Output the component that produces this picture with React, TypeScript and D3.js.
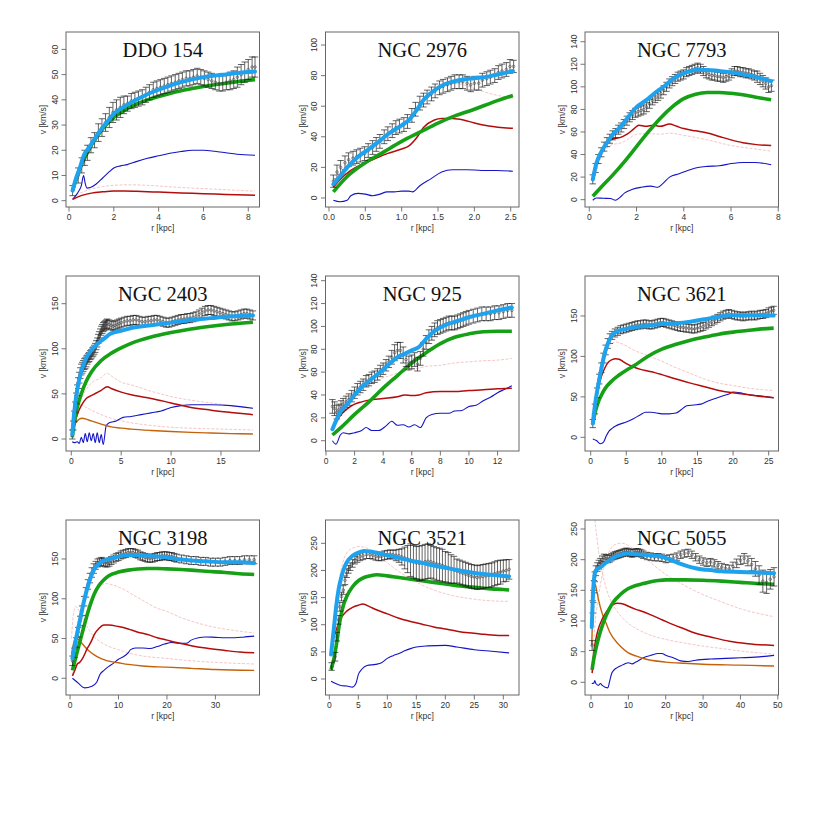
import React from 'react';
import * as d3 from 'd3';

type P = [number, number];
type O = [number, number, number];

// ---------------- DDO 154 ----------------
const ddoObs: O[] = [[0.16,4,2],[0.41,10,3],[0.57,14,3],[0.7,17,3],[0.82,19,3],[0.98,22,3],[1.14,24,3],[1.31,27,3.5],[1.47,29,3.5],[1.63,31,3.5],[1.8,33,4],[1.96,35,4],[2.12,36,4],[2.29,37,4],[2.45,38,3.5],[2.61,38.5,3],[2.78,39.5,3],[2.94,40,3],[3.1,40.5,3],[3.27,41,3],[3.43,42,3],[3.59,43,3],[3.76,44,3],[3.92,44.5,3],[4.08,45,3],[4.25,45.5,3],[4.41,46,3],[4.57,46.5,3],[4.74,47,3],[4.9,47.5,3],[5.06,48,3],[5.23,48.5,3],[5.39,48.5,3],[5.55,49,3],[5.72,49.5,3],[5.88,49,3],[6.04,48.5,3],[6.21,48,3],[6.37,47.5,3],[6.53,47,3],[6.7,46.5,3],[6.86,46.5,3],[7.02,47,3],[7.19,47.5,3.5],[7.35,48,3.5],[7.51,49,4],[7.68,50,4],[7.84,51,4],[8.0,52,4],[8.17,53,4],[8.3,53,4]];
const ddoTotal: P[] = [[0.16,4],[0.3,8.5],[0.5,13.5],[0.62,17],[0.72,19],[0.85,20.5],[1.0,22.5],[1.25,26],[1.5,29],[1.75,31.8],[2.0,34.5],[2.5,37.5],[3.0,40],[3.5,42.2],[4.0,44],[4.5,45.6],[5.0,47],[5.5,48.1],[6.0,49],[6.5,49.6],[7.0,50.1],[7.5,50.6],[8.3,51.2]];
const ddoHalo: P[] = [[0.16,4],[0.5,13],[1.0,22],[1.5,28.5],[2.0,33],[2.5,36],[3.0,38.3],[3.5,40],[4.0,41.3],[4.5,42.5],[5.0,43.6],[5.5,44.5],[6.0,45.3],[6.5,46],[7.0,46.6],[7.5,47.2],[8.3,48]];
const ddoDisk: P[] = [[0.16,0.5],[0.4,1.5],[0.7,2.4],[1.0,3],[1.5,3.5],[2.0,3.8],[2.5,3.8],[3.0,3.7],[4.0,3.4],[5.0,3.1],[6.0,2.8],[7.0,2.5],[8.3,2.2]];
const ddoGas: P[] = [[0.16,0.5],[0.3,2],[0.45,4],[0.55,6],[0.65,10],[0.72,7],[0.8,5],[0.95,5.2],[1.2,6.5],[1.5,9],[1.8,11.5],[2.0,13],[2.3,13.8],[2.6,14.3],[3.0,15.5],[3.5,16.8],[4.0,17.8],[4.5,18.8],[5.0,19.5],[5.5,20],[6.0,20],[6.5,19.6],[7.0,19],[7.5,18.4],[8.3,18]];
const ddoDiskAlt: P[] = [[0.16,1],[0.5,3],[1.0,4.6],[1.5,5.6],[2.0,6.1],[2.7,6.3],[3.5,6.1],[4.5,5.5],[5.5,5],[6.5,4.6],[7.5,4.1],[8.3,3.8]];

// ---------------- NGC 2976 ----------------
const n2976Obs: O[] = [[0.06,11,4],[0.11,17,4.5],[0.16,20,4.5],[0.22,23,4.5],[0.27,25,4.5],[0.33,26,4.5],[0.38,27,4.5],[0.43,28,4.5],[0.49,29,4.5],[0.54,31,4.5],[0.6,33,4.5],[0.65,35,4.5],[0.7,37,4.5],[0.76,40,4.5],[0.81,42,4.5],[0.87,44,4.5],[0.92,46,4.5],[0.97,47,4.5],[1.03,48,4.5],[1.08,50,4.5],[1.14,54,4.5],[1.19,58,4.5],[1.25,62,4.5],[1.3,64,4.5],[1.35,66,4.5],[1.41,68,4.5],[1.46,70,4.5],[1.52,72,4.5],[1.57,73,4.5],[1.63,74,4.5],[1.68,75,4.5],[1.73,76,4.5],[1.79,76,4.5],[1.84,76,4.5],[1.9,75,4.5],[1.95,74,4.5],[2.0,75,4.5],[2.06,75,4.5],[2.11,77,4.5],[2.17,78,4.5],[2.22,79,4.5],[2.28,80,4.5],[2.33,82,4.5],[2.38,83,4.5],[2.44,84,4.5],[2.49,86,4.5],[2.54,86,4]];
const n2976Total: P[] = [[0.06,9],[0.15,14],[0.25,20],[0.4,27],[0.55,32],[0.7,37.5],[0.85,43],[1.0,47.5],[1.1,51],[1.2,57],[1.3,64],[1.4,68.5],[1.5,72],[1.6,74.5],[1.7,76],[1.85,77.5],[2.0,78.3],[2.2,79.5],[2.35,81],[2.53,83]];
const n2976Halo: P[] = [[0.06,4],[0.25,14],[0.5,23],[0.75,30],[1.0,37],[1.25,43],[1.5,49],[1.75,54],[2.0,58],[2.25,62.5],[2.53,67]];
const n2976Disk: P[] = [[0.06,7],[0.15,12],[0.3,18],[0.45,22],[0.6,25],[0.8,29],[1.0,32],[1.1,34],[1.2,39],[1.3,46],[1.45,51],[1.55,52],[1.7,52],[1.85,51],[2.0,49],[2.2,47],[2.53,45.5]];
const n2976Gas: P[] = [[0.06,-1.5],[0.15,-2.5],[0.25,-1.5],[0.3,1.5],[0.4,3],[0.5,2.5],[0.6,1.5],[0.7,2.5],[0.8,4],[0.9,4],[1.0,4.5],[1.1,4.5],[1.15,4],[1.25,8],[1.4,12.5],[1.55,17],[1.7,18.5],[1.9,18.5],[2.1,18],[2.3,18],[2.53,17.5]];
const n2976DiskAlt: P[] = [[0.06,10],[0.3,24],[0.6,33],[0.9,42],[1.1,50],[1.3,65],[1.5,73],[1.7,75],[1.85,74],[2.0,71.5],[2.2,68.5],[2.53,65]];

// ---------------- NGC 7793 ----------------
const n7793Obs: O[] = [[0.15,18,4],[0.27,28,4],[0.39,36,4],[0.51,42,4],[0.63,47,4],[0.75,51,4],[0.87,54,4],[0.99,57,4],[1.11,59,4],[1.23,62,4],[1.35,64,4],[1.47,67,4],[1.59,70,4],[1.71,73,4],[1.83,75,4],[1.95,77,4],[2.07,78,4],[2.19,79,4],[2.31,80,4],[2.43,82,4],[2.55,85,4],[2.67,88,4],[2.79,90,4],[2.91,92,4],[3.03,94,4],[3.15,97,4],[3.27,100,4],[3.39,103,4],[3.51,105,4],[3.63,107,4],[3.75,109,4],[3.87,110,4],[3.99,111,4],[4.11,113,4],[4.23,114,4],[4.35,115,4],[4.47,116,4],[4.59,117,4],[4.71,116,4],[4.83,114,4],[4.95,112,4],[5.07,111,4],[5.19,110,4],[5.31,110,4],[5.43,109,4],[5.55,109,4],[5.67,108,4],[5.79,109,4],[5.91,110,4],[6.03,112,4],[6.15,114,4],[6.27,114,4],[6.39,113,4],[6.51,113,4],[6.63,112,4],[6.75,112,4],[6.87,111,4],[6.99,110,4],[7.11,109,5],[7.23,107,5],[7.35,105,5],[7.47,103,5],[7.59,100,5],[7.71,101,5]];
const n7793Total: P[] = [[0.15,18],[0.3,32],[0.5,42],[0.8,52],[1.0,58],[1.3,64],[1.6,72],[2.0,82],[2.4,88],[2.8,95],[3.2,101],[3.6,108],[4.0,112],[4.5,115],[5.0,115],[5.5,114],[6.0,113],[6.5,111],[7.0,109],[7.7,105]];
const n7793Halo: P[] = [[0.15,3],[0.5,11],[1.0,22],[1.5,34],[2.0,47],[2.5,60],[3.0,72],[3.5,82],[4.0,89.5],[4.5,93.5],[5.0,95],[5.5,95],[6.0,94.3],[6.5,93],[7.0,91],[7.7,88.5]];
const n7793Disk: P[] = [[0.15,18],[0.3,32],[0.5,42],[0.8,51],[1.0,54],[1.3,55],[1.6,58],[1.9,63],[2.1,66],[2.4,65],[2.7,66],[3.0,65],[3.4,67],[3.7,65],[4.0,63],[4.5,61],[5.0,59],[5.5,56],[6.0,53],[6.5,50.5],[7.0,49],[7.7,48]];
const n7793Gas: P[] = [[0.15,-0.5],[0.3,1.5],[0.6,1.2],[0.9,1],[1.1,-0.5],[1.3,2],[1.5,6],[1.8,9],[2.2,11],[2.6,12],[2.9,11],[3.1,14],[3.4,20],[3.8,23],[4.2,26],[4.6,28.5],[5.0,29.5],[5.5,30],[6.0,32],[6.5,33],[7.0,33],[7.7,31]];
const n7793DiskAlt: P[] = [[0.15,16],[0.5,38],[1.0,49],[1.3,50],[1.6,53],[2.0,58],[2.5,58.5],[3.0,58],[3.4,59],[4.0,57],[5.0,53],[6.0,48],[7.0,45],[7.7,43]];

// ---------------- NGC 2403 ----------------
const n2403Obs: O[] = [[0.1,5,5],[0.2,15,5],[0.3,25,6],[0.4,35,6],[0.5,45,6],[0.6,54,6],[0.7,62,6],[0.8,68,6],[0.9,73,6],[1.0,77,6],[1.1,79,6],[1.2,81,6],[1.3,83,6],[1.4,84,6],[1.5,86,6],[1.6,88,5],[1.7,90,5],[1.8,91,5],[1.9,93,5],[2.0,94,5],[2.1,96,5],[2.2,97,5],[2.3,99,5],[2.4,101,5],[2.5,104,5],[2.6,107,5],[2.7,111,5],[2.8,114,5],[2.9,117,5],[3.0,120,5],[3.1,122,5],[3.2,124,5],[3.3,125,5],[3.4,126,5],[3.5,127,5],[3.6,128,5],[3.8,127,5],[4.0,126,5],[4.2,125,5],[4.4,126,5],[4.6,127,5],[4.8,128,5],[5.0,129,5],[5.3,130,5],[5.6,131,5],[5.9,131,5],[6.2,132,5],[6.5,132,5],[6.8,131,5],[7.1,130,5],[7.4,130,5],[7.7,131,5],[8.0,131,5],[8.3,132,5],[8.6,132,5],[8.9,131,5],[9.2,130,5],[9.5,129,5],[9.8,129,5],[10.1,130,5],[10.4,131,5],[10.7,132,5],[11.0,133,5],[11.3,133,5],[11.6,134,5],[11.9,134,5],[12.2,135,5],[12.5,136,5],[12.8,138,5],[13.1,140,5],[13.4,142,5],[13.7,143,5],[14.0,143,5],[14.3,142,5],[14.6,141,5],[14.9,140,5],[15.2,139,5],[15.5,138,5],[15.8,137,5],[16.1,136,5],[16.4,136,5],[16.7,137,5],[17.0,138,5],[17.3,139,5],[17.6,139,5],[17.9,138,5],[18.2,137,5]];
const n2403Total: P[] = [[0.1,5],[0.3,30],[0.6,55],[1.0,75],[1.5,90],[2.0,98],[2.5,104],[3.0,109],[3.5,113],[3.7,115],[4.0,117],[5.0,120],[6.0,123],[8.0,126],[10.0,129],[12.0,132],[14.0,134],[16.0,136],[18.2,137]];
const n2403Halo: P[] = [[0.1,2],[0.3,18],[0.6,35],[1.0,50],[1.5,64],[2.0,74],[3.0,87],[4.0,95],[5.0,101],[6.0,106],[8.0,113],[10.0,118],[12.0,122],[14.0,125],[16.0,127.5],[18.2,129.5]];
const n2403Disk: P[] = [[0.1,2],[0.3,15],[0.6,27],[1.0,37],[1.5,45],[2.0,48],[2.5,51],[3.0,54],[3.6,58],[4.0,56],[5.0,52],[6.0,49],[8.0,45],[10.0,40],[12.0,35],[14.0,32],[16.0,29.5],[18.2,27]];
const n2403Bulge: P[] = [[0.1,8],[0.4,17],[0.8,22],[1.1,23],[1.5,22],[2.0,20],[3.0,16.5],[4.0,13.5],[5.0,12],[6.0,11],[8.0,9.5],[10.0,8.3],[12.0,7.3],[14.0,6.6],[16.0,6],[18.2,5.5]];
const n2403Gas: P[] = [[0.1,-3],[0.3,-4],[0.6,-3],[0.8,-5],[1.0,2],[1.2,-4],[1.4,6],[1.6,-3],[1.8,7],[2.0,-2],[2.2,6],[2.4,-4],[2.6,7],[2.8,-4],[3.0,5],[3.2,-6],[3.5,15],[3.8,18],[4.5,20],[5.2,24],[6.0,25],[7.0,27],[8.0,29],[9.0,31],[10.0,35],[11.0,37],[12.0,38],[14.0,38],[16.0,37],[18.2,34]];
const n2403DiskAlt: P[] = [[0.1,3],[0.5,30],[1.0,45],[1.5,55],[2.0,62],[3.0,68],[3.6,73],[4.0,70],[5.0,63],[6.0,60],[8.0,53],[10.0,47],[12.0,43],[14.0,40],[16.0,37],[18.2,34]];
const n2403BulgeAlt: P[] = [[0.1,15],[0.3,35],[0.6,40],[1.0,38],[2.0,32],[3.0,27],[4.0,23],[6.0,18],[8.0,15],[10.0,13],[12.0,12],[15.0,11],[18.2,10]];

// ---------------- NGC 925 ----------------
const n925Obs: O[] = [[0.45,30,6],[0.6,28,6],[0.75,25,6],[0.9,27,5],[1.05,30,5],[1.2,32,5],[1.4,34,5],[1.6,36,5],[1.8,39,5],[2.0,42,5],[2.2,45,5],[2.4,47,5],[2.6,49,5],[2.8,52,5],[3.0,53,5],[3.2,55,5],[3.4,56,5],[3.6,58,5],[3.8,61,5],[4.0,63,5],[4.2,66,5],[4.4,69,5],[4.6,73,6],[4.8,77,7],[5.0,79,7],[5.2,79,7],[5.4,75,7],[5.6,71,6],[5.8,68,6],[6.0,69,6],[6.2,71,6],[6.4,67,6],[6.6,72,6],[6.8,80,6],[7.0,86,6],[7.2,91,6],[7.4,94,6],[7.6,97,6],[7.8,99,6],[8.0,100,6],[8.2,101,6],[8.4,102,6],[8.6,103,6],[8.8,103,6],[9.0,103,6],[9.2,104,6],[9.4,105,6],[9.6,106,6],[9.8,107,6],[10.0,108,6],[10.3,109,6],[10.6,110,6],[10.9,111,6],[11.2,111,6],[11.5,111,6],[11.8,112,6],[12.1,112,6],[12.4,113,6],[12.7,114,6],[13.0,114,6]];
const n925Total: P[] = [[0.45,10],[1.0,25],[1.5,32],[2.0,40],[2.5,47],[3.0,52],[3.5,57],[4.0,62],[4.5,68],[5.0,73],[5.5,76],[6.0,79],[6.5,82],[7.0,89],[7.5,95],[8.0,99],[8.5,102],[9.0,104],[9.5,106],[10.0,108],[11.0,111],[12.0,114],[13.0,116.5]];
const n925Halo: P[] = [[0.45,5],[1.0,11],[2.0,23],[3.0,34],[4.0,46],[5.0,57],[6.0,68],[7.0,77],[8.0,85],[9.0,90.5],[10.0,93.5],[11.0,95.3],[12.0,95.8],[13.0,95.8]];
const n925Disk: P[] = [[0.45,10],[1.0,22],[1.5,28],[2.0,32],[2.5,34],[3.0,35.5],[4.0,37],[5.0,38.5],[5.5,40],[6.0,39.5],[6.5,40],[7.0,42],[8.0,43],[9.0,43],[10.0,44],[11.0,44.5],[12.0,45.5],[13.0,46]];
const n925Gas: P[] = [[0.45,0],[0.7,-3],[1.0,5],[1.2,7],[1.6,6],[2.0,7],[2.5,9],[2.8,11.5],[3.2,9],[3.7,9],[4.2,13],[4.6,17],[5.0,13.5],[5.4,14],[5.8,12],[6.2,14],[6.6,11.5],[7.0,20],[7.4,23],[8.0,24],[8.6,24],[9.0,26],[9.5,26.5],[10.0,30],[10.5,31],[11.0,35],[11.5,38],[12.0,42],[12.5,45],[13.0,48]];
const n925DiskAlt: P[] = [[0.45,12],[1.0,27],[2.0,42],[3.0,50],[4.0,55],[5.0,59],[6.0,62],[7.0,65],[8.0,66],[9.0,68],[10.0,69],[11.0,70],[12.0,70.5],[13.0,72]];

// ---------------- NGC 3621 ----------------
const n3621Obs: O[] = [[0.3,17,5],[0.6,35,6],[0.9,55,6],[1.2,72,6],[1.5,86,6],[1.8,98,6],[2.1,108,6],[2.4,116,6],[2.7,122,6],[3.0,126,5],[3.4,129,5],[3.8,131,5],[4.2,133,5],[4.6,134,5],[5.0,135,5],[5.4,136,5],[5.8,137,5],[6.2,138,5],[6.6,139,5],[7.0,139,5],[7.4,140,5],[7.8,140,5],[8.2,139,5],[8.6,139,5],[9.0,140,5],[9.4,141,5],[9.8,142,5],[10.2,142,5],[10.6,141,5],[11.0,140,5],[11.4,139,5],[11.8,138,5],[12.2,137,5],[12.6,136,5],[13.0,136,5],[13.4,135,5],[13.8,135,5],[14.2,134,5],[14.6,134,5],[15.0,135,5],[15.4,136,5],[15.8,137,5],[16.2,139,5],[16.6,141,5],[17.0,143,5],[17.4,145,5],[17.8,147,5],[18.2,149,5],[18.6,151,5],[19.0,152,5],[19.4,153,5],[19.8,152,5],[20.2,151,5],[20.6,150,5],[21.0,150,5],[21.4,149,5],[21.8,150,5],[22.2,150,5],[22.6,151,5],[23.0,150,5],[23.4,151,5],[23.8,152,5],[24.2,152,5],[24.6,153,5],[25.0,155,5],[25.4,156,5],[25.7,157,5]];
const n3621Total: P[] = [[0.3,17],[0.6,40],[1.0,62],[1.5,85],[2.0,105],[2.5,118],[3.0,126],[3.5,130],[4.0,132],[5.0,134],[6.0,136],[8.0,138],[10.0,140],[12.0,141],[14.0,143],[16.0,146],[18.0,149],[20.0,151],[22.0,151],[24.0,151],[25.7,150.5]];
const n3621Halo: P[] = [[0.3,18],[0.6,30],[1.0,42],[1.5,52],[2.0,60],[3.0,70],[4.0,77],[5.0,83],[6.0,88],[8.0,100],[10.0,109],[12.0,115],[14.0,120],[16.0,124],[18.0,127.5],[20.0,130],[22.0,132],[24.0,134],[25.7,135]];
const n3621Disk: P[] = [[0.3,17],[0.6,38],[1.0,58],[1.5,75],[2.0,86],[2.5,93],[3.0,96],[3.5,97],[4.0,96.5],[4.5,94],[5.0,91],[6.0,87],[7.0,84],[8.0,82],[9.0,80],[10.0,77.5],[12.0,72],[14.0,67],[16.0,62.5],[18.0,58],[20.0,55],[22.0,53],[24.0,50.5],[25.7,49]];
const n3621Gas: P[] = [[0.3,-2],[0.8,-4],[1.4,-8],[1.8,-6],[2.2,2],[2.6,8],[3.0,11],[3.5,14],[4.0,16],[5.0,19],[6.0,23],[7.0,28],[7.7,31],[8.5,31],[9.3,30],[10.0,29],[11.0,29],[12.0,30],[12.7,34],[13.5,39],[14.5,40],[15.5,41],[16.5,45],[17.5,48],[18.5,51],[19.5,54],[20.0,56],[21.0,55],[22.0,53],[24.0,51],[25.7,49]];
const n3621DiskAlt: P[] = [[0.3,20],[1.0,70],[2.0,102],[3.0,116],[3.5,118],[4.0,117],[5.0,113],[6.0,108],[8.0,101],[10.0,94],[12.0,86],[14.0,79],[16.0,72],[18.0,67],[20.0,64],[22.0,61],[24.0,59],[25.7,58]];

// ---------------- NGC 3198 ----------------
const n3198Obs: O[] = [[0.5,22,6],[0.9,32,6],[1.3,45,6],[1.7,58,6],[2.1,72,6],[2.5,85,6],[2.9,97,6],[3.3,108,6],[3.7,118,6],[4.1,126,6],[4.5,133,6],[4.9,138,6],[5.3,142,5],[5.7,145,5],[6.1,146,5],[6.5,147,5],[6.9,146,5],[7.3,145,5],[7.7,145,5],[8.1,146,5],[8.5,148,5],[9.0,150,5],[9.5,152,5],[10.0,153,5],[10.5,155,5],[11.0,156,5],[11.5,157,5],[12.0,158,5],[12.5,158,5],[13.0,158,5],[13.5,157,5],[14.0,156,5],[14.5,154,5],[15.0,153,5],[15.5,152,5],[16.0,151,5],[16.5,151,5],[17.0,151,5],[17.5,152,5],[18.0,153,5],[18.5,153,5],[19.0,154,5],[19.5,154,5],[20.0,154,5],[20.5,153,5],[21.0,153,5],[21.5,152,5],[22.0,151,5],[23.0,150,5],[24.0,149,5],[25.0,148,5],[26.0,148,5],[27.0,147,5],[28.0,147,5],[29.0,146,5],[30.0,146,5],[31.0,146,5],[32.0,147,5],[33.0,148,5],[34.0,148,5],[35.0,148,5],[36.0,149,5],[37.0,149,5],[38.0,149,5]];
const n3198Total: P[] = [[0.5,25],[1.0,42],[2.0,72],[3.0,100],[4.0,122],[5.0,137],[6.0,144],[7.0,148],[8.0,150],[10.0,153],[12.0,155],[14.0,155],[16.0,154],[18.0,153],[20.0,152],[22.0,150],[25.0,148],[28.0,147],[32.0,146],[35.0,146],[38.0,145]];
const n3198Halo: P[] = [[0.5,10],[1.0,22],[2.0,45],[3.0,68],[4.0,89],[5.0,106],[6.0,117],[7.0,124],[8.0,129],[10.0,133.5],[12.0,136],[14.0,137.5],[16.0,138],[18.0,138],[20.0,137.5],[22.0,137],[25.0,136],[28.0,134.5],[32.0,133],[35.0,131.5],[38.0,130.5]];
const n3198Disk: P[] = [[0.5,3],[1.0,10],[1.5,18],[2.0,20],[2.5,24],[3.0,30],[3.5,37],[4.0,42],[4.5,48],[5.0,55],[6.0,63],[7.0,67],[8.0,67],[10.0,65],[12.0,62],[14.0,58],[16.0,55],[18.0,51],[20.0,48],[22.0,45],[25.0,41],[28.0,38],[32.0,35],[35.0,33],[38.0,32]];
const n3198Bulge: P[] = [[0.3,30],[0.7,43],[1.2,50],[1.7,49],[2.3,45],[3.0,40],[4.0,34],[5.0,29.5],[6.0,26],[7.0,23.5],[8.0,21.5],[10.0,19.5],[12.0,17.5],[15.0,15.5],[20.0,14],[25.0,12.5],[30.0,11],[38.0,10]];
const n3198Gas: P[] = [[0.5,0],[1.5,-5],[3.0,-12],[4.5,-10],[5.5,-5],[6.2,5],[7.0,10],[8.0,15],[9.0,19],[10.0,24],[11.0,27],[12.0,32],[12.5,36],[13.5,38],[15.0,38],[16.5,37.5],[18.0,40],[19.5,43],[21.0,45],[22.5,44],[24.0,44],[25.0,48],[26.5,51],[28.0,52],[30.0,51.5],[32.0,51],[34.0,51],[36.0,52],[38.0,53]];
const n3198DiskAlt: P[] = [[0.5,5],[2.0,45],[3.0,75],[4.0,95],[5.0,105],[6.0,114],[7.5,119],[9.0,117],[11.0,112],[13.0,105],[15.0,98],[18.0,88],[20.0,84],[23.0,76],[26.0,70],[30.0,64],[34.0,60],[38.0,57]];
const n3198BulgeAlt: P[] = [[0.3,50],[0.8,85],[1.2,90],[1.6,88],[2.0,83],[3.0,70],[4.0,60],[5.0,52],[6.0,47],[8.0,40],[10.0,36],[12.0,32],[15.0,28],[20.0,25],[25.0,22],[30.0,20],[38.0,18]];

// ---------------- NGC 3521 ----------------
const n3521Obs: O[] = [[0.4,23,7],[1.0,41,8],[1.3,78,8],[1.55,109,8],[1.8,133,8],[2.1,152,8],[2.4,164,8],[2.7,182,8],[3.0,195,8],[3.3,202,7],[3.6,207,7],[4.0,213,7],[4.4,219,7],[4.8,222,7],[5.3,225,7],[5.8,227,7],[6.4,229,7],[7.0,229,7],[7.5,228,7],[8.0,226,7],[8.5,225,7],[9.0,226,8],[9.5,228,8],[10.0,229,8],[10.5,230,8],[11.0,229,8],[11.5,228,10],[12.0,227,12],[12.5,225,15],[13.0,223,20],[13.5,221,25],[14.0,219,30],[14.5,216,30],[15.0,214,30],[15.5,213,32],[16.0,214,32],[16.5,216,32],[17.0,217,32],[17.5,216,30],[18.0,214,30],[18.5,212,30],[19.0,211,30],[19.5,209,30],[20.0,207,28],[20.5,205,28],[21.0,203,26],[21.5,201,25],[22.0,199,22],[22.5,197,22],[23.0,195,22],[23.5,193,22],[24.0,191,22],[24.5,189,22],[25.0,188,22],[25.5,187,22],[26.0,188,22],[26.5,189,22],[27.0,190,22],[27.5,191,22],[28.0,192,22],[28.5,194,22],[29.0,196,22],[29.5,197,22],[30.0,199,20],[30.5,200,20],[31.0,202,18]];
const n3521Total: P[] = [[0.3,45],[0.8,95],[1.2,135],[1.6,165],[2.0,185],[2.5,203],[3.0,215],[4.0,227],[5.0,233],[6.0,236],[7.0,235],[8.0,233],[10.0,228],[12.0,223],[14.0,218],[16.0,214],[18.0,209],[20.0,205],[22.0,201],[24.0,197],[26.0,194],[28.0,192],[30.0,190],[31.0,189]];
const n3521Halo: P[] = [[0.3,17],[0.8,38],[1.2,62],[1.8,105],[2.4,135],[3.0,152],[4.0,170],[5.0,181],[6.0,187],[7.0,190],[8.2,192],[10.0,190],[12.0,187],[14.0,184],[16.0,181],[18.0,178],[20.0,175],[22.0,172],[24.0,170],[26.0,168],[28.0,166],[30.0,165],[31.0,164]];
const n3521Disk: P[] = [[0.3,47],[0.6,70],[1.0,84],[1.5,100],[2.0,112],[3.0,125],[4.0,132],[5.0,136],[5.8,138],[7.0,133],[8.0,128],[10.0,120],[12.0,112],[14.0,106],[16.0,101],[18.0,96],[20.0,92],[22.0,88],[24.0,85],[26.0,83],[28.0,81],[30.0,80],[31.0,80]];
const n3521Gas: P[] = [[0.3,-4],[1.0,-8],[2.0,-12],[3.0,-13],[4.0,-15],[4.6,-8],[5.0,8],[5.6,18],[6.5,25],[8.0,27],[9.0,30],[10.0,38],[11.0,43],[12.0,47],[13.0,52],[14.0,56],[15.0,59],[17.0,61],[20.0,62],[22.0,59],[25.0,54],[28.0,51],[31.0,48]];
const n3521DiskAlt: P[] = [[0.3,50],[1.0,120],[2.0,200],[3.0,232],[4.0,241],[5.0,244],[6.0,243],[7.0,238],[8.0,230],[10.0,214],[12.0,198],[14.0,185],[16.0,173],[18.0,164],[20.0,157],[22.0,152],[25.0,147],[28.0,144],[31.0,143]];

// ---------------- NGC 5055 ----------------
const n5055Obs: O[] = [[0.3,60,8],[0.45,123,10],[0.6,140,10],[0.8,156,10],[1.0,172,8],[1.3,182,8],[1.7,188,7],[2.1,192,7],[2.5,196,6],[3.0,200,6],[3.5,203,6],[4.0,202,6],[4.5,201,6],[5.0,202,6],[5.5,204,6],[6.0,206,6],[6.5,207,6],[7.0,208,6],[7.5,209,6],[8.0,210,6],[8.5,211,6],[9.0,212,6],[9.5,213,6],[10.0,212,6],[10.5,211,6],[11.0,210,6],[11.5,211,6],[12.0,212,6],[12.5,212,6],[13.0,211,6],[13.5,210,6],[14.0,208,6],[15.0,206,6],[16.0,205,6],[17.0,204,6],[18.0,204,6],[19.0,203,6],[20.0,201,6],[21.0,202,6],[22.0,203,6],[23.0,205,6],[24.0,208,6],[25.0,210,6],[26.0,211,6],[27.0,208,6],[28.0,204,6],[29.0,200,6],[30.0,197,6],[31.0,195,6],[32.0,196,6],[33.0,194,6],[34.0,191,6],[35.0,188,6],[36.0,186,6],[37.0,185,6],[38.0,189,7],[39.0,194,7],[40.0,199,7],[41.0,202,8],[42.0,198,8],[43.0,192,10],[44.0,185,12],[45.0,175,15],[46.0,165,18],[47.0,163,18],[48.0,168,16],[49.0,172,15]];
const n5055Total: P[] = [[0.2,90],[0.5,140],[0.8,168],[1.1,180],[1.5,184],[2.0,186],[3.0,190],[4.0,195],[5.0,199],[6.0,203],[8.0,208],[10.0,210],[12.0,209],[14.0,208],[16.0,207],[18.0,206],[20.0,203],[22.0,198],[24.0,193],[26.0,189],[28.0,186],[30.0,184],[32.0,183],[35.0,181],[40.0,180],[45.0,179],[49.0,178]];
const n5055Halo: P[] = [[0.3,20],[0.6,33],[1.0,46],[1.5,60],[2.0,72],[3.0,92],[4.0,108],[5.0,121],[6.0,131],[7.0,138],[8.0,144],[10.0,153],[12.0,158],[14.0,161],[16.0,164],[18.0,166],[20.0,167],[25.0,167],[30.0,166.5],[35.0,165],[40.0,163],[45.0,161],[49.0,160]];
const n5055Disk: P[] = [[0.3,15],[0.6,40],[1.0,60],[1.5,76],[2.0,88],[3.0,103],[4.0,114],[5.0,122],[6.0,127],[7.0,129],[8.0,128.5],[9.0,127],[10.0,124],[12.0,119],[14.0,115],[16.0,110],[19.0,102],[22.0,94],[25.0,87],[28.0,80],[32.0,74],[37.0,67],[42.0,63],[49.0,60]];
const n5055Bulge: P[] = [[0.2,60],[0.5,130],[0.8,155],[1.1,160],[1.5,150],[2.0,135],[3.0,112],[4.0,97],[5.0,82],[6.0,72],[8.0,58],[10.0,48],[12.0,43],[14.5,38],[20.0,33],[25.0,31],[30.0,29.5],[40.0,28],[49.0,26.5]];
const n5055Gas: P[] = [[0.2,-2],[0.8,-1],[1.0,3],[1.3,-2],[2.0,-5],[2.5,-2],[3.0,-5],[4.5,-9],[5.0,2],[5.5,14],[6.0,19],[7.0,24],[8.0,27],[9.0,30],[10.0,32],[11.0,30],[12.0,33],[14.0,40],[16.0,44],[18.0,47],[19.0,47],[20.0,44],[22.0,40],[24.0,35],[26.0,34],[28.0,36],[32.0,38],[36.0,39],[40.0,40],[44.0,41],[49.0,44]];
const n5055DiskAlt: P[] = [[0.3,30],[1.0,90],[2.0,140],[3.0,175],[4.0,200],[5.0,215],[6.0,223],[7.0,226],[8.0,227],[9.0,226],[10.0,223],[12.0,215],[14.0,205],[16.0,195],[18.0,185],[20.0,176],[25.0,158],[30.0,143],[35.0,131],[40.0,120],[45.0,112],[49.0,107]];
const n5055BulgeAlt: P[] = [[0.9,280],[1.2,255],[1.6,235],[2.0,215],[3.0,180],[4.0,155],[5.0,137],[6.0,125],[8.0,108],[10.0,96],[12.0,88],[15.0,79],[20.0,70],[25.0,64],[30.0,59],[35.0,55],[40.0,51],[45.0,48],[49.0,46]];

// ---------------- panel meta ----------------
const galaxyNames = ['DDO 154', 'NGC 2976', 'NGC 7793', 'NGC 2403', 'NGC 925', 'NGC 3621', 'NGC 3198', 'NGC 3521', 'NGC 5055'];
const xTickValues = [[0,2,4,6,8],[0,0.5,1,1.5,2,2.5],[0,2,4,6,8],[0,5,10,15],[0,2,4,6,8,10,12],[0,5,10,15,20,25],[0,10,20,30],[0,5,10,15,20,25,30],[0,10,20,30,40,50]];
const yTickValues = [[0,10,20,30,40,50,60],[0,20,40,60,80,100],[0,20,40,60,80,100,120,140],[0,50,100,150],[0,20,40,60,80,100,120,140],[0,50,100,150],[0,50,100,150],[0,50,100,150,200,250],[0,50,100,150,200,250]];
const xDomains: P[] = [[-0.134,8.5],[-0.048,2.614],[-0.18,8.01],[-0.53,18.86],[-0.035,13.5],[-0.8,26.38],[-0.83,39.1],[-0.66,32.7],[-1.61,50.19]];
const yDomains: P[] = [[-2.5,66.9],[-5.9,108.5],[-6.5,148.6],[-13.3,180.7],[-9.0,144.1],[-16.9,199.4],[-21,199],[-29.5,293],[-20.7,264.7]];

interface PanelData {
  name: string; obs: O[]; total: P[]; halo: P[]; disk: P[]; gas: P[]; bulge?: P[]; alts: P[][];
  xDom: P; yDom: P; xTicks: number[]; yTicks: number[];
}

const series = [
  { obs: ddoObs, total: ddoTotal, halo: ddoHalo, disk: ddoDisk, gas: ddoGas, alts: [ddoDiskAlt] },
  { obs: n2976Obs, total: n2976Total, halo: n2976Halo, disk: n2976Disk, gas: n2976Gas, alts: [n2976DiskAlt] },
  { obs: n7793Obs, total: n7793Total, halo: n7793Halo, disk: n7793Disk, gas: n7793Gas, alts: [n7793DiskAlt] },
  { obs: n2403Obs, total: n2403Total, halo: n2403Halo, disk: n2403Disk, gas: n2403Gas, bulge: n2403Bulge, alts: [n2403DiskAlt, n2403BulgeAlt] },
  { obs: n925Obs, total: n925Total, halo: n925Halo, disk: n925Disk, gas: n925Gas, alts: [n925DiskAlt] },
  { obs: n3621Obs, total: n3621Total, halo: n3621Halo, disk: n3621Disk, gas: n3621Gas, alts: [n3621DiskAlt] },
  { obs: n3198Obs, total: n3198Total, halo: n3198Halo, disk: n3198Disk, gas: n3198Gas, bulge: n3198Bulge, alts: [n3198DiskAlt, n3198BulgeAlt] },
  { obs: n3521Obs, total: n3521Total, halo: n3521Halo, disk: n3521Disk, gas: n3521Gas, alts: [n3521DiskAlt] },
  { obs: n5055Obs, total: n5055Total, halo: n5055Halo, disk: n5055Disk, gas: n5055Gas, bulge: n5055Bulge, alts: [n5055DiskAlt, n5055BulgeAlt] },
];

const panels: PanelData[] = series.map((s, i) => ({
  ...s, name: galaxyNames[i], xDom: xDomains[i], yDom: yDomains[i], xTicks: xTickValues[i], yTicks: yTickValues[i],
}));

const COL_LEFT = [66, 325.5, 585];
const ROW_TOP = [32, 276, 520];
const PW = 193.5;
const PH = 175;

const C_TOTAL = '#1ea2ee';
const C_HALO = '#16a016';
const C_DISK = '#b30c0c';
const C_GAS = '#1414c4';
const C_BULGE = '#c4620c';
const C_ALT = '#f2b4b4';
const SANS = '"Liberation Sans", Arial, Helvetica, sans-serif';
const SERIF = '"Liberation Serif", "Times New Roman", serif';

function Panel({ p, i }: { p: PanelData; i: number }) {
  const left = COL_LEFT[i % 3];
  const top = ROW_TOP[Math.floor(i / 3)];
  const x = d3.scaleLinear().domain(p.xDom).range([left, left + PW]);
  const y = d3.scaleLinear().domain(p.yDom).range([top + PH, top]);
  const line = d3.line<P>().x(d => x(d[0])).y(d => y(d[1])).curve(d3.curveMonotoneX);
  const clipId = `clip-${i}`;
  const bottom = top + PH;
  const xfmt = i === 1 ? d3.format('.1f') : d3.format('d');
  const cap = 3.2;
  return (
    <g>
      <defs>
        <clipPath id={clipId}>
          <rect x={left} y={top} width={PW} height={PH} />
        </clipPath>
      </defs>
      <g clipPath={`url(#${clipId})`} fill="none">
        {p.alts.map((a, k) => (
          <path key={k} d={line(a) || ''} stroke={C_ALT} strokeWidth={0.9} strokeDasharray="3 1.5" opacity={0.85} />
        ))}
        <path d={line(p.gas) || ''} stroke={C_GAS} strokeWidth={1.1} />
        {p.bulge && <path d={line(p.bulge) || ''} stroke={C_BULGE} strokeWidth={1.4} />}
        <path d={line(p.disk) || ''} stroke={C_DISK} strokeWidth={1.5} />
        <path d={line(p.halo) || ''} stroke={C_HALO} strokeWidth={3.6} />
        <g stroke="#111" strokeWidth={0.65}>
          {p.obs.map((o, k) => {
            const cx = x(o[0]);
            const y1 = y(o[1] - o[2]);
            const y2 = y(o[1] + o[2]);
            return (
              <g key={k}>
                <line x1={cx} x2={cx} y1={y1} y2={y2} />
                <line x1={cx - cap} x2={cx + cap} y1={y1} y2={y1} />
                <line x1={cx - cap} x2={cx + cap} y1={y2} y2={y2} />
              </g>
            );
          })}
        </g>
        <g stroke="#444" strokeWidth={0.6}>
          {p.obs.map((o, k) => (
            <circle key={k} cx={x(o[0])} cy={y(o[1])} r={1.3} />
          ))}
        </g>
        <path d={line(p.total) || ''} stroke={C_TOTAL} strokeWidth={4} strokeLinejoin="round" strokeLinecap="round" />
      </g>
      <text x={left + PW / 2} y={top + 25} textAnchor="middle" fontFamily={SERIF} fontSize={20.5} fill="#111">
        {p.name}
      </text>
      <rect x={left} y={top} width={PW} height={PH} fill="none" stroke="#666" strokeWidth={1} />
      <g stroke="#666" strokeWidth={0.9}>
        {p.xTicks.map(t => (
          <line key={t} x1={x(t)} x2={x(t)} y1={bottom} y2={bottom + 4.5} />
        ))}
        {p.yTicks.map(t => (
          <line key={t} x1={left} x2={left - 4.5} y1={y(t)} y2={y(t)} />
        ))}
      </g>
      <g fontFamily={SANS} fontSize={8.5} fill="#333">
        {p.xTicks.map(t => (
          <text key={t} x={x(t)} y={bottom + 12.5} textAnchor="middle">{xfmt(t)}</text>
        ))}
        {p.yTicks.map(t => (
          <text key={t} transform={`translate(${left - 8.5},${y(t)}) rotate(-90)`} textAnchor="middle">{t}</text>
        ))}
        <text x={left + PW / 2} y={bottom + 24} textAnchor="middle">r [kpc]</text>
        <text transform={`translate(${left - 20},${top + PH / 2}) rotate(-90)`} textAnchor="middle">v [km/s]</text>
      </g>
    </g>
  );
}

export default function App() {
  return (
    <div style={{ position: 'absolute', left: 0, top: 0, width: 831, height: 831, background: '#fff' }}>
      <svg width={831} height={831} viewBox="0 0 831 831" style={{ display: 'block' }}>
        <rect x={0} y={0} width={831} height={831} fill="#fff" />
        {panels.map((p, i) => (
          <Panel key={p.name} p={p} i={i} />
        ))}
      </svg>
    </div>
  );
}
